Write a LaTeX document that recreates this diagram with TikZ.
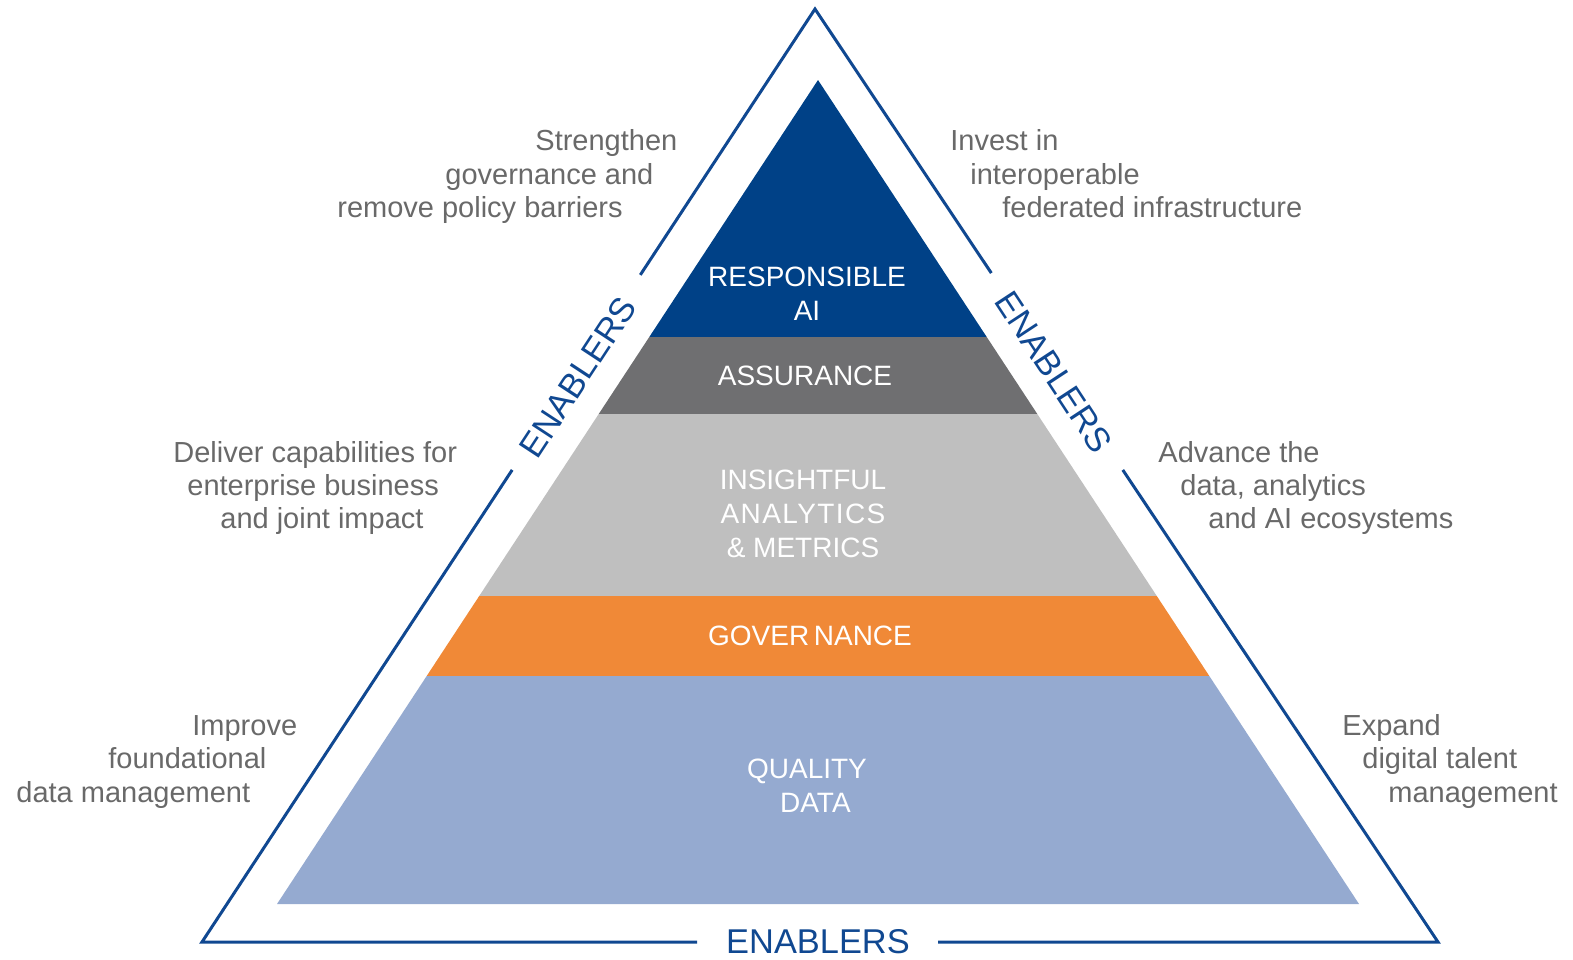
\documentclass[tikz,border=0pt]{standalone}
\usepackage{fontspec}
\setmainfont{Liberation Sans}
\usetikzlibrary{calc}
\definecolor{navy}{RGB}{0,65,135}
\definecolor{edgeblue}{RGB}{16,72,145}
\definecolor{slate}{RGB}{111,111,113}
\definecolor{silver}{RGB}{191,191,191}
\definecolor{tangerine}{RGB}{240,137,55}
\definecolor{periwinkle}{RGB}{149,170,208}
\definecolor{note}{RGB}{105,105,105}
\begin{document}
\begin{tikzpicture}[x=0.5pt,y=-0.5pt,
  layertext/.style={text=white,font=\fontsize{14}{17}\selectfont,align=center,inner sep=0pt},
  sidetext/.style={text=note,font=\fontsize{14.5}{17}\selectfont,inner sep=0pt,anchor=base west},
  enabler/.style={text=edgeblue,font=\fontsize{17.2}{20}\selectfont,inner sep=0pt},
  frame/.style={draw=edgeblue,line width=1.5pt,line join=miter}]
\useasboundingbox (0,0) rectangle (1573,959);

% outer frame corners
\coordinate (A) at (815,9);
\coordinate (BL) at (202,942);
\coordinate (BR) at (1438,942);

% inner pyramid corners
\coordinate (P) at (818,80);
\coordinate (L) at (277,904);
\coordinate (R) at (1359,904);

% pyramid layers
\begin{scope}
  \clip (P) -- (L) -- (R) -- cycle;
  \fill[navy] (200,70) rectangle (1440,337);
  \fill[slate] (200,337) rectangle (1440,414);
  \fill[silver] (200,414) rectangle (1440,596);
  \fill[tangerine] (200,596) rectangle (1440,676);
  \fill[periwinkle] (200,676) rectangle (1440,910);
\end{scope}

% layer labels
\node[layertext] (resp) at (807,294) {RESPONSIBLE\\AI};
\node[layertext] (assur) at (805,376) {ASSURANCE};
\node[layertext] (insight) at (803,514) {INSIGHTFUL\\{\addfontfeature{LetterSpace=5}ANALYTICS}\\\& METRICS};
\node[layertext] (gov) at (810,636) {GOVER\,NANCE};
\node[layertext] (qual) at (807,786) {QUALITY\\\hspace*{0.6em}DATA};

% outer frame, broken where the ENABLERS labels sit
\draw[frame] ($(A)!0.285!(BL)$) -- (A) -- ($(A)!0.283!(BR)$);
\draw[frame] ($(A)!0.494!(BL)$) -- (BL) -- ($(BL)!0.4005!(BR)$);
\draw[frame] ($(A)!0.494!(BR)$) -- (BR) -- ($(BL)!0.5955!(BR)$);

\node[enabler,rotate=56.7] (enL) at (578,377) {ENABLERS};
\node[enabler,rotate=-56.7] (enR) at (1054,372) {ENABLERS};
\node[enabler] (enB) at (818,942) {ENABLERS};

% side notes
\node[sidetext] (s1) at (535,150) {Strengthen};
\node[sidetext] (s2) at (445,184) {governance and};
\node[sidetext] (s3) at (337,217) {remove policy barriers};

\node[sidetext] (i1) at (950,150) {Invest in};
\node[sidetext] (i2) at (970,184) {interoperable};
\node[sidetext] (i3) at (1002,217) {federated infrastructure};

\node[sidetext] (d1) at (173,462) {Deliver capabilities for};
\node[sidetext] (d2) at (187,495) {enterprise business};
\node[sidetext] (d3) at (220,528) {and joint impact};

\node[sidetext] (a1) at (1158,462) {Advance the};
\node[sidetext] (a2) at (1180,495) {data, analytics};
\node[sidetext] (a3) at (1208,528) {and AI ecosystems};

\node[sidetext] (f1) at (192,735) {Improve};
\node[sidetext] (f2) at (108,768) {foundational};
\node[sidetext] (f3) at (16,802) {data management};

\node[sidetext] (e1) at (1342,735) {Expand};
\node[sidetext] (e2) at (1362,768) {digital talent};
\node[sidetext] (e3) at (1388,802) {management};
\end{tikzpicture}
\end{document}
